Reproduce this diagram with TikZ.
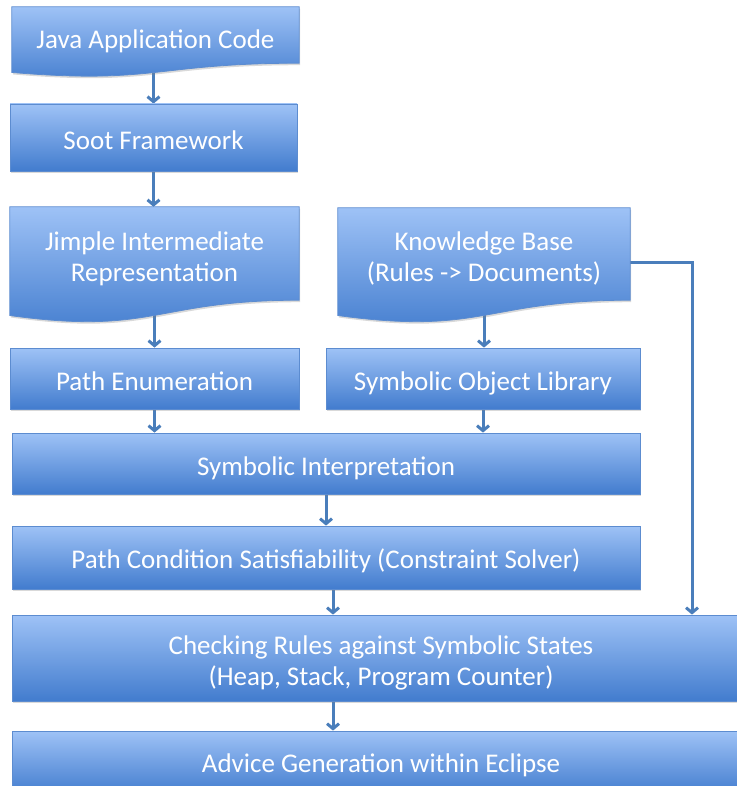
\documentclass[tikz,border=0pt]{standalone}
\usepackage{fontspec}
\setmainfont{Carlito}
\usetikzlibrary{arrows.meta,shadows,backgrounds}
\definecolor{boxtop}{RGB}{158,194,246}
\definecolor{boxbot}{RGB}{66,124,206}
\definecolor{boxline}{RGB}{92,140,208}
\definecolor{arrowblue}{RGB}{74,126,187}

\begin{document}
\begin{tikzpicture}
[x=1pt,y=-1pt,>={Straight Barb[length=5pt,width=12pt]},
boxtext/.style = {text=white, font=\fontsize{27}{31}\selectfont, align=center, inner sep=0pt},
oneline/.style = {text height=24pt, text depth=0pt},
twoline/.style = {text height=55pt, text depth=0pt},
box/.style = {boxtext, draw=boxline, line width=0.8pt, top color=boxtop, bottom color=boxbot,
  drop shadow={opacity=0.3,shadow xshift=1pt,shadow yshift=-2pt}},
docfill/.style = {draw=boxline, line width=0.8pt, top color=boxtop, bottom color=boxbot,
  drop shadow={opacity=0.3,shadow xshift=1pt,shadow yshift=-2pt}},
arr/.style = {->, draw=arrowblue, line width=3pt},]

\useasboundingbox (0,0) rectangle (736,786);

% wavy bottom of a document box: #1 node, #2 full height
\def\docshape#1#2{%
  \path[docfill] (#1.north west) -- (#1.north east) -- (#1.south east)
    .. controls (#1.south) and ([yshift={-0.305*#2}]#1.south)
    .. ([yshift={-0.132*#2}]#1.south west) -- cycle;}

\coordinate (mid) at (333,0);
\coordinate (rt) at (692,0);

\node (java) at (155.5,35)[boxtext,oneline,text height=28pt,minimum width=287,minimum height=56] {Java Application Code};
\node (soot) at (153.5,137.5)[box,oneline,minimum width=287,minimum height=67] {Soot Framework};
\node (jimple) at (154.5,253.5)[boxtext,twoline,minimum width=289,minimum height=93] {Jimple Intermediate\\Representation};
\node (kb) at (484,254)[boxtext,twoline,minimum width=292,minimum height=92] {Knowledge Base\\(Rules -> Documents)};
\node (path) at (154.5,378.5)[box,oneline,minimum width=289,minimum height=61] {Path Enumeration};
\node (sol) at (483,378.5)[box,oneline,minimum width=314,minimum height=61] {Symbolic Object Library};
\node (symint) at (326,463.5)[box,oneline,minimum width=628,minimum height=61] {Symbolic Interpretation};
\node (pathcond) at (326,557.5)[box,oneline,text height=22pt,minimum width=628,minimum height=63] {Path Condition Satisfiability (Constraint Solver)};
\node (check) at (381,658)[box,twoline,text height=54pt,minimum width=738,minimum height=86] {Checking Rules against Symbolic States\\(Heap, Stack, Program Counter)};
\node (advice) at (381,763)[box,oneline,text height=18pt,minimum width=738,minimum height=64] {Advice Generation within Eclipse};

\begin{pgfonlayer}{background}
\draw[arr] (java.south -| soot) -- (soot.north);
\draw[arr] (soot.south) -- (soot.south |- jimple.north);
\draw[arr] (jimple.south) -- (path.north);
\draw[arr] (kb.south) -- (kb.south |- sol.north);
\draw[arr] (path.south) -- (path.south |- symint.north);
\draw[arr] (sol.south) -- (sol.south |- symint.north);
\draw[arr] (symint) -- (pathcond);
\draw[arr] (pathcond.south -| mid) -- (check.north -| mid);
\draw[arr] (check.south -| mid) -- (advice.north -| mid);
\draw[arr] ([yshift=-8pt]kb.east) -| (check.north -| rt);

\docshape{java}{70}
\docshape{jimple}{116}
\docshape{kb}{116}
\end{pgfonlayer}

\end{tikzpicture}
\end{document}
